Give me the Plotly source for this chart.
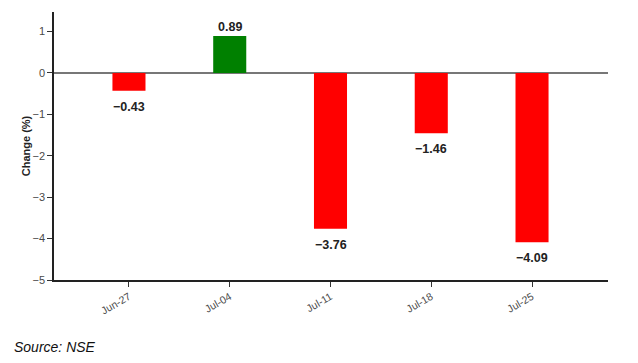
import plotly.graph_objects as go

categories = ["Jun-27", "Jul-04", "Jul-11", "Jul-18", "Jul-25"]
values = [-0.43, 0.89, -3.76, -1.46, -4.09]
y_ticks = [1, 0, -1, -2, -3, -4, -5]
y_tick_labels = ["1", "0", "\u22121", "\u22122", "\u22123", "\u22124", "\u22125"]

colors = ["#008000" if v > 0 else "#ff0000" for v in values]
labels = [f"{v:.2f}".replace("-", "\u2212") for v in values]
xs = list(range(len(categories)))

fig = go.Figure()
fig.add_trace(go.Bar(
    x=xs, y=values, width=0.328,
    marker=dict(color=colors, line=dict(width=0)),
    cliponaxis=False,
))
for x, v, lab in zip(xs, values, labels):
    fig.add_annotation(
        x=x, y=v, text=f"<b>{lab}</b>", showarrow=False,
        yanchor="bottom" if v > 0 else "top",
        yshift=0 if v > 0 else -7,
        font=dict(family="Liberation Sans, Arial", size=12.5, color="#222222"),
    )
fig.update_layout(
    width=622, height=347,
    margin=dict(l=46, r=22, t=4, b=75, autoexpand=False),
    plot_bgcolor="white", paper_bgcolor="white",
    showlegend=False,
    font=dict(family="Liberation Sans, Arial", size=10, color="#555555"),
)
fig.update_xaxes(
    range=[-0.744, 4.754], tickmode="array", tickvals=xs, ticktext=categories,
    tickangle=-30, ticks="outside", ticklen=5, tickcolor="#333333",
    showline=True, linecolor="#222222", linewidth=1.5, showgrid=False, zeroline=False,
    tickfont=dict(size=10.5, color="#4a4a4a"), automargin=False,
)
fig.update_yaxes(
    range=[-5, 1.47], tickmode="array", tickvals=y_ticks, ticktext=y_tick_labels,
    ticks="outside", ticklen=5, tickcolor="#333333",
    showline=True, linecolor="#222222", linewidth=1.5, showgrid=False,
    zeroline=True, zerolinecolor="#777777", zerolinewidth=1.5,
    title=dict(text="<b>Change (%)</b>", font=dict(size=11, color="#222222"), standoff=0),
    tickfont=dict(size=11, color="#4a4a4a"), automargin=False,
)
fig.add_annotation(
    text="<i>Source: NSE</i>", xref="paper", yref="paper", x=-0.0758, y=-0.25,
    xanchor="left", yanchor="middle", showarrow=False,
    font=dict(family="Liberation Sans, Arial", size=14, color="#111111"),
)
fig.write_html("out.html")
